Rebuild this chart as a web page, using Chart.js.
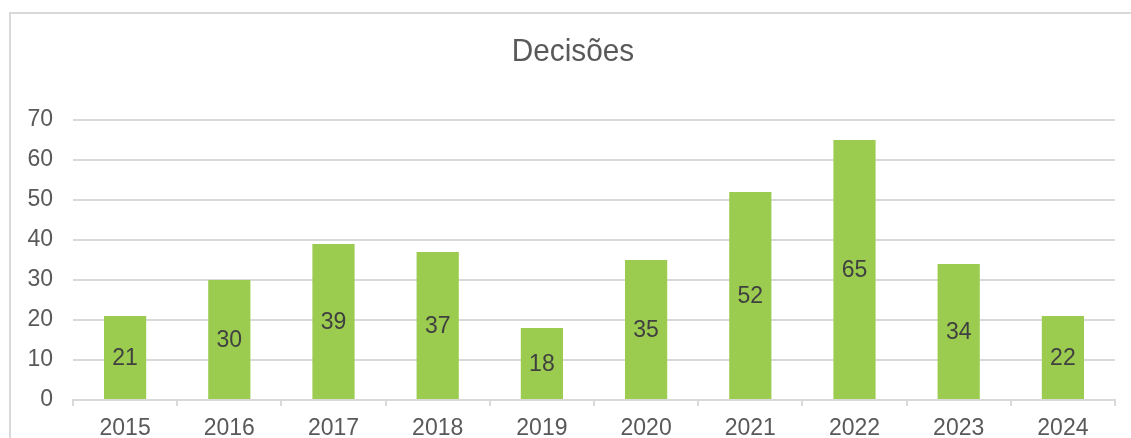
<!DOCTYPE html>
<html>
<head>
<meta charset="utf-8">
<script src="https://cdn.jsdelivr.net/npm/chart.js@4"></script>
<style>
  html, body { margin: 0; padding: 0; background: #ffffff; overflow: hidden; }
  #wrap { position: relative; width: 1131px; height: 438px; }
</style>
</head>
<body>
<div id="wrap"><canvas id="c" width="1131" height="438"></canvas></div>
<script>
const chartTitle = 'Decisões';
const categories = ['2015', '2016', '2017', '2018', '2019', '2020', '2021', '2022', '2023', '2024'];
const barValues = [21, 30, 39, 37, 18, 35, 52, 65, 34, 21];
const valueLabels = ['21', '30', '39', '37', '18', '35', '52', '65', '34', '22'];
const yTicks = [0, 10, 20, 30, 40, 50, 60, 70];

const FONT = "'Liberation Sans', Arial, sans-serif";

const frame = {
  id: 'frame',
  beforeDraw(chart) {
    const ctx = chart.ctx;
    ctx.save();
    ctx.fillStyle = '#ffffff';
    ctx.fillRect(0, 0, chart.width, chart.height);
    ctx.strokeStyle = '#d9d9d9';
    ctx.lineWidth = 2;
    ctx.strokeRect(10, 13, chart.width + 20, chart.height + 20);
    // title, centred on the frame
    ctx.fillStyle = '#595959';
    ctx.font = '32px ' + FONT;
    ctx.textAlign = 'center';
    ctx.textBaseline = 'middle';
    ctx.translate(573, 52);
    ctx.scale(0.93, 1);
    ctx.fillText(chartTitle, 0, 0);
    ctx.restore();
  }
};

const barLabels = {
  id: 'barLabels',
  afterDatasetsDraw(chart) {
    const ctx = chart.ctx;
    const meta = chart.getDatasetMeta(0);
    ctx.save();
    ctx.font = '23px ' + FONT;
    ctx.fillStyle = '#404040';
    ctx.textAlign = 'center';
    ctx.textBaseline = 'middle';
    meta.data.forEach((bar, i) => {
      const p = bar.getProps(['x', 'y', 'base'], true);
      ctx.fillText(valueLabels[i], p.x, (p.y + p.base) / 2 + 1);
    });
    ctx.restore();
  }
};

new Chart(document.getElementById('c'), {
  type: 'bar',
  data: {
    labels: categories,
    datasets: [{
      data: barValues,
      backgroundColor: '#9BCC4F',
      borderWidth: 0,
      barPercentage: 0.405,
      categoryPercentage: 1.0
    }]
  },
  options: {
    responsive: false,
    animation: false,
    events: [],
    layout: { padding: { left: 0, right: 16, top: 120, bottom: 0 } },
    plugins: {
      legend: { display: false },
      tooltip: { enabled: false },
      title: { display: false }
    },
    scales: {
      x: {
        grid: {
          display: true,
          drawOnChartArea: false,
          drawTicks: true,
          tickLength: 6,
          color: '#d9d9d9',
          lineWidth: 2
        },
        border: { display: true, color: '#d9d9d9', width: 2 },
        ticks: {
          color: '#595959',
          font: { family: FONT, size: 23 },
          padding: 9,
          maxRotation: 0
        },
        afterFit(scale) { scale.height = 38; }
      },
      y: {
        min: 0,
        max: 70,
        afterBuildTicks(scale) { scale.ticks = yTicks.map(v => ({ value: v })); },
        grid: { color: '#d9d9d9', lineWidth: 2, drawTicks: false },
        border: { display: false },
        ticks: {
          color: '#595959',
          font: { family: FONT, size: 23 },
          padding: 20
        },
        afterFit(scale) { scale.width = 73; }
      }
    }
  },
  plugins: [frame, barLabels]
});
</script>
</body>
</html>
